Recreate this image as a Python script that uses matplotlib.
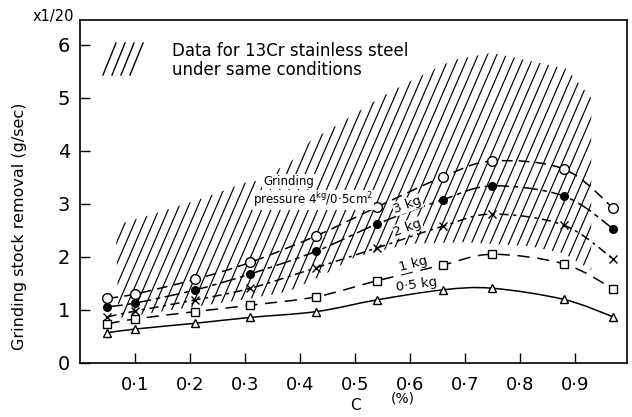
import numpy as np
import matplotlib
matplotlib.use("Agg")
import matplotlib.pyplot as plt
from matplotlib.path import Path
from matplotlib.patches import PathPatch, Polygon
from matplotlib.collections import LineCollection

plt.rcParams['font.family'] = ['DejaVu Sans']

# ---- data ----
carbon = [0.05, 0.10, 0.21, 0.31, 0.43, 0.54, 0.66, 0.75, 0.88, 0.97]
p4kg = [1.22, 1.30, 1.58, 1.90, 2.40, 2.94, 3.51, 3.81, 3.66, 2.92]
p3kg = [1.06, 1.13, 1.38, 1.68, 2.11, 2.62, 3.08, 3.34, 3.15, 2.53]
p2kg = [0.87, 0.98, 1.19, 1.41, 1.80, 2.17, 2.58, 2.81, 2.60, 1.96]
p1kg = [0.74, 0.83, 0.97, 1.09, 1.25, 1.55, 1.85, 2.05, 1.87, 1.40]
p05kg = [0.57, 0.64, 0.75, 0.86, 0.97, 1.19, 1.38, 1.41, 1.20, 0.87]

# 13Cr stainless steel region outline
cr_x = [0.065, 0.14, 0.23, 0.30, 0.33, 0.39, 0.42, 0.47, 0.545, 0.605, 0.68, 0.75, 0.885, 0.93,
        0.93, 0.88, 0.82, 0.70, 0.60, 0.50, 0.45, 0.38, 0.30, 0.20, 0.07]
cr_y = [2.60, 2.83, 3.13, 3.40, 3.45, 3.85, 4.20, 4.50, 5.00, 5.34, 5.72, 5.85, 5.55, 5.00,
        1.75, 2.07, 2.20, 2.28, 2.25, 2.00, 1.70, 1.35, 1.20, 1.05, 0.85]

xticks = [0.1, 0.2, 0.3, 0.4, 0.5, 0.6, 0.7, 0.8, 0.9]
xticklabels = ["0·1", "0·2", "0·3", "0·4", "0·5", "0·6", "0·7", "0·8", "0·9"]
yticks = [0, 1, 2, 3, 4, 5, 6]

W, H = 632, 417
fig = plt.figure(figsize=(W / 100, H / 100), dpi=100)
ax = fig.add_axes([80 / W, 1 - 363 / H, 547 / W, 343 / H])
ax.set_xlim(0, 0.995)
ax.set_ylim(0, 6.47)

# hatched region with steep lines clipped to outline
poly = Polygon(np.column_stack([cr_x, cr_y]), closed=True, facecolor='none',
               edgecolor='none', transform=ax.transData)
ax.add_patch(poly)
slope = 24.0
segs = []
for x0 in np.arange(-0.3, 1.0, 0.017):
    segs.append([(x0, 0.0), (x0 + 7.0 / slope, 7.0)])
lc = LineCollection(segs, colors='black', linewidths=0.85, zorder=1)
ax.add_collection(lc)
lc.set_clip_path(poly)


def smooth_path(xs, ys):
    pts = np.column_stack([xs, ys])
    verts = [pts[0]]
    codes = [Path.MOVETO]
    n = len(pts)
    for i in range(n - 1):
        p0 = pts[i - 1] if i > 0 else pts[i]
        p1 = pts[i]
        p2 = pts[i + 1]
        p3 = pts[i + 2] if i + 2 < n else pts[i + 1]
        c1 = p1 + (p2 - p0) / 6.0
        c2 = p2 - (p3 - p1) / 6.0
        verts += [c1, c2, p2]
        codes += [Path.CURVE4] * 3
    return Path(verts, codes)


series = [
    (p4kg, 'o', 'white', (7, 4)),
    (p3kg, 'o', 'black', (10, 3, 3, 3)),
    (p2kg, 'x', 'black', (6, 3, 2, 3)),
    (p1kg, 's', 'white', (8, 5)),
    (p05kg, '^', 'white', None),
]
for ys, mk, fc, dash in series:
    patch = PathPatch(smooth_path(carbon, ys), facecolor='none', edgecolor='black',
                      lw=1.1, zorder=2)
    if dash is not None:
        patch.set_linestyle((0, dash))
    ax.add_patch(patch)
    ms = 7 if mk == 'o' and fc == 'white' else 6
    if fc == 'black':
        ms = 5.5
    ax.plot(carbon, ys, linestyle='none', marker=mk, ms=ms, mfc=fc, mec='black',
            mew=1.0, zorder=3)

# axes styling
for s in ax.spines.values():
    s.set_linewidth(1.2)
ax.set_xticks(xticks)
ax.set_xticklabels(xticklabels, fontsize=13)
ax.set_yticks(yticks)
ax.set_yticklabels([str(v) for v in yticks], fontsize=14)
ax.tick_params(axis='both', direction='in', length=7, width=1.0)
ax.tick_params(axis='x', pad=9)
ax.tick_params(axis='y', pad=7)

fig.text(20 / W, 1 - 226 / H, "Grinding stock removal (g/sec)", rotation=90,
         ha='center', va='center', fontsize=11.5)
fig.text(355 / W, 1 - 405 / H, "C", ha='center', va='center', fontsize=11)
fig.text(403 / W, 1 - 399 / H, "(%)", ha='center', va='center', fontsize=10)
fig.text(53 / W, 1 - 16 / H, "x1/20", ha='center', va='center', fontsize=10.5)

# legend text and glyph
for i in range(4):
    x0 = 103 + i * 9
    fig.add_artist(plt.Line2D([(x0) / W, (x0 + 13) / W], [1 - 75 / H, 1 - 43 / H],
                              color='black', lw=1.0))
fig.text(172 / W, 1 - 51 / H, "Data for 13Cr stainless steel", ha='left', va='center',
         fontsize=12)
fig.text(172 / W, 1 - 70 / H, "under same conditions", ha='left', va='center',
         fontsize=12)

# curve labels
bb = dict(facecolor='white', edgecolor='none', pad=0.5)
ax.text(0.333, 3.42, "Grinding", fontsize=8.5, ha='left', va='center', bbox=bb, zorder=4)
ax.text(0.315, 3.08, r"pressure 4$^{\rm kg}$/0·5cm$^{2}$", fontsize=8.5, ha='left',
        va='center', bbox=bb, zorder=4)
ax.text(0.596, 2.98, r"3 kg", fontsize=9.5, ha='center', va='center', rotation=20,
        bbox=bb, zorder=4)
ax.text(0.596, 2.55, r"2 kg", fontsize=9.5, ha='center', va='center', rotation=20,
        bbox=bb, zorder=4)
ax.text(0.607, 1.87, r"1 kg", fontsize=9.5, ha='center', va='center', rotation=15,
        bbox=bb, zorder=4)
ax.text(0.613, 1.47, r"0·5 kg", fontsize=9.5, ha='center', va='center', rotation=8,
        bbox=bb, zorder=4)

fig.savefig("out.png", dpi=100)
